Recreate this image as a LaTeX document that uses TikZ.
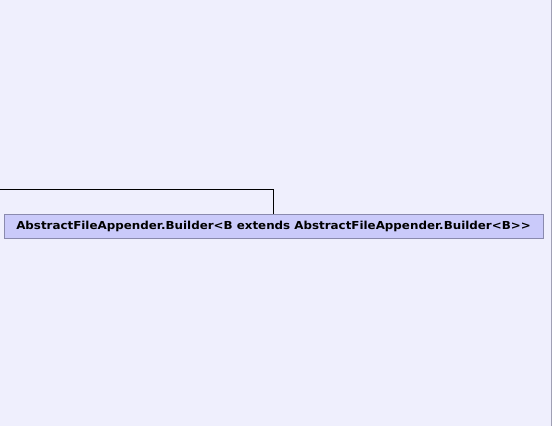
\documentclass[tikz,border=0pt]{standalone}
\usepackage{fontspec}
\setmainfont{DejaVu Sans}
\definecolor{bgc}{HTML}{EFEFFD}
\definecolor{boxfill}{HTML}{CACAFA}
\definecolor{boxdraw}{HTML}{8A8AAE}
\definecolor{edgec}{HTML}{A0A0B4}
\begin{document}
\begin{tikzpicture}[x=1pt,y=-1pt,
  classbox/.style={draw=boxdraw,fill=boxfill,line width=1pt,minimum width=539pt,minimum height=24pt,inner sep=0pt,font=\bfseries\fontsize{11}{13}\selectfont},
  link/.style={draw=black,line width=0.8pt}]
\useasboundingbox (0,0) rectangle (554,426);
\fill[white] (0,0) rectangle (554,426);
\fill[bgc] (0,0) rectangle (551,426);
\draw[edgec,line width=1pt] (551.5,0) -- (551.5,426);
\node[classbox] (b) at (273.5,226) {\scalebox{1.08}[1]{AbstractFileAppender.Builder<B extends AbstractFileAppender.Builder<B>{}>}};
\coordinate (s) at (0,189);
\draw[link] (s) -| (b.north -| 273,0);
\end{tikzpicture}
\end{document}
